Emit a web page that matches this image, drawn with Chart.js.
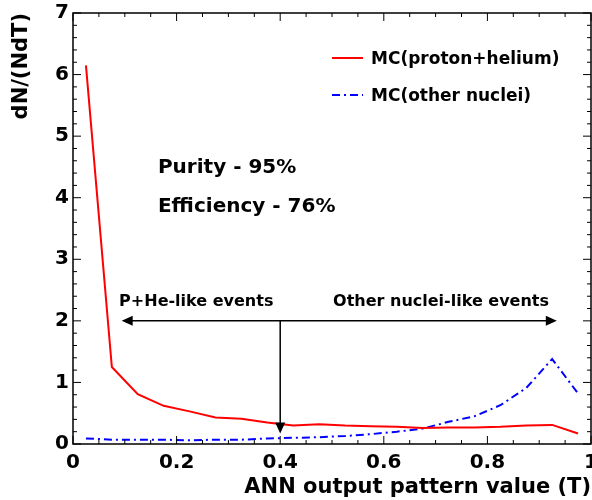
<!DOCTYPE html>
<html>
<head>
<meta charset="utf-8">
<script src="https://cdn.jsdelivr.net/npm/chart.js@4/dist/chart.umd.min.js"></script>
<style>
  html, body { margin: 0; padding: 0; background: #fff; }
  #wrap { width: 592px; height: 500px; }
</style>
</head>
<body>
<div id="wrap"><canvas id="MyChart" width="592" height="500"></canvas></div>
<script>
// bin centres of the ANN output histogram
const binCentres = [0.025, 0.075, 0.125, 0.175, 0.225, 0.275, 0.325, 0.375, 0.425, 0.475,
                    0.525, 0.575, 0.625, 0.675, 0.725, 0.775, 0.825, 0.875, 0.925, 0.975];
const protonHelium = [6.15, 1.25, 0.81, 0.62, 0.53, 0.43, 0.41, 0.35, 0.30, 0.32,
                      0.30, 0.29, 0.28, 0.26, 0.27, 0.27, 0.28, 0.30, 0.31, 0.17];
const otherNuclei  = [0.09, 0.07, 0.07, 0.07, 0.06, 0.07, 0.07, 0.09, 0.10, 0.11,
                      0.13, 0.16, 0.20, 0.25, 0.36, 0.45, 0.63, 0.91, 1.38, 0.82];
const seriesLabels = ['MC(proton+helium)', 'MC(other nuclei)'];
const xTicks = [0, 0.2, 0.4, 0.6, 0.8, 1];
const yTicks = [0, 1, 2, 3, 4, 5, 6, 7];

// annotation values (data units)
const cutValue = 0.4;
const arrowLevel = 2.0;
const arrowLeftEnd = 0.094;
const arrowRightEnd = 0.934;
const cutArrowEnd = 0.17;
const regionLabels = [
  { text: 'P+He-like events', x: 0.089, y: 2.31 },
  { text: 'Other nuclei-like events', x: 0.502, y: 2.31 }
];
const statLabels = [
  { text: 'Purity - 95%', x: 0.164, y: 4.48 },
  { text: 'Efficiency - 76%', x: 0.164, y: 3.85 }
];

const FONT = "'DejaVu Sans', sans-serif";
const blueDash = [8, 4, 2, 4];

const toPoints = (vals) => vals.map((v, i) => ({ x: binCentres[i], y: v }));

function arrowHead(ctx, x, y, dx, dy) {
  const len = 11, half = 5;
  const px = -dy, py = dx;
  ctx.beginPath();
  ctx.moveTo(x, y);
  ctx.lineTo(x - dx * len + px * half, y - dy * len + py * half);
  ctx.lineTo(x - dx * len - px * half, y - dy * len - py * half);
  ctx.closePath();
  ctx.fill();
}

const rootStyle = {
  id: 'rootStyle',
  afterDraw(chart) {
    const ctx = chart.ctx;
    const a = chart.chartArea;
    const xs = chart.scales.x, ys = chart.scales.y;
    ctx.save();
    ctx.strokeStyle = '#000';
    ctx.fillStyle = '#000';

    // frame
    ctx.lineWidth = 1.5;
    ctx.strokeRect(a.left, a.top, a.right - a.left, a.bottom - a.top);

    // ticks on all sides, pointing inwards
    ctx.lineWidth = 1;
    ctx.beginPath();
    for (let i = 0; i <= 20; i++) {
      const v = i * 0.05;
      const px = xs.getPixelForValue(v);
      const len = i % 4 === 0 ? 8 : 4;
      ctx.moveTo(px, a.bottom); ctx.lineTo(px, a.bottom - len);
      ctx.moveTo(px, a.top); ctx.lineTo(px, a.top + len);
    }
    for (let i = 0; i <= 35; i++) {
      const v = i * 0.2;
      const py = ys.getPixelForValue(v);
      const len = i % 5 === 0 ? 8 : 4;
      ctx.moveTo(a.left, py); ctx.lineTo(a.left + len, py);
      ctx.moveTo(a.right, py); ctx.lineTo(a.right - len, py);
    }
    ctx.stroke();

    // region arrows
    const yA = ys.getPixelForValue(arrowLevel);
    const xL = xs.getPixelForValue(arrowLeftEnd);
    const xR = xs.getPixelForValue(arrowRightEnd);
    const xC = xs.getPixelForValue(cutValue);
    const yC = ys.getPixelForValue(cutArrowEnd);
    ctx.lineWidth = 1.5;
    ctx.beginPath();
    ctx.moveTo(xL + 8, yA); ctx.lineTo(xR - 8, yA);
    ctx.moveTo(xC, yA); ctx.lineTo(xC, yC - 8);
    ctx.stroke();
    arrowHead(ctx, xL, yA, -1, 0);
    arrowHead(ctx, xR, yA, 1, 0);
    arrowHead(ctx, xC, yC, 0, 1);

    // texts
    ctx.textBaseline = 'middle';
    ctx.textAlign = 'left';
    ctx.font = 'bold 16px ' + FONT;
    regionLabels.forEach((l) => {
      ctx.fillText(l.text, xs.getPixelForValue(l.x), ys.getPixelForValue(l.y));
    });
    ctx.font = 'bold 20px ' + FONT;
    statLabels.forEach((l) => {
      ctx.fillText(l.text, xs.getPixelForValue(l.x), ys.getPixelForValue(l.y));
    });

    // legend
    ctx.font = 'bold 17px ' + FONT;
    const legendRows = [58, 95];
    chart.data.datasets.forEach((ds, i) => {
      const y = legendRows[i];
      ctx.strokeStyle = ds.borderColor;
      ctx.lineWidth = 2;
      ctx.setLineDash(ds.borderDash || []);
      ctx.beginPath();
      ctx.moveTo(332, y); ctx.lineTo(363, y);
      ctx.stroke();
      ctx.setLineDash([]);
      ctx.fillStyle = '#000';
      ctx.fillText(ds.label, 371, y + 2);
    });
    ctx.restore();
  }
};

new Chart('MyChart', {
  type: 'line',
  data: {
    datasets: [
      {
        label: seriesLabels[0],
        data: toPoints(protonHelium),
        borderColor: '#ff0000',
        borderWidth: 2,
        pointRadius: 0,
        tension: 0,
        fill: false
      },
      {
        label: seriesLabels[1],
        data: toPoints(otherNuclei),
        borderColor: '#0000ff',
        borderWidth: 2,
        borderDash: blueDash,
        pointRadius: 0,
        tension: 0,
        fill: false
      }
    ]
  },
  options: {
    responsive: false,
    animation: false,
    layout: { padding: { top: 13, right: 1, left: 0, bottom: 0 } },
    plugins: {
      legend: { display: false },
      tooltip: { enabled: false }
    },
    scales: {
      x: {
        type: 'linear',
        min: 0,
        max: 1,
        afterFit: (scale) => {
          scale.height = 56;
          scale.paddingLeft = 0;
          scale.paddingRight = 0;
        },
        afterBuildTicks: (scale) => { scale.ticks = xTicks.map((v) => ({ value: v })); },
        grid: { display: false, drawTicks: false },
        border: { display: false },
        ticks: {
          color: '#000',
          padding: 7,
          maxRotation: 0,
          font: { family: FONT, size: 20, weight: 'bold' },
          callback: (v) => String(v)
        },
        title: {
          display: true,
          text: 'ANN output pattern value (T)',
          align: 'end',
          color: '#000',
          padding: { top: 0, bottom: 0 },
          font: { family: FONT, size: 21, weight: 'bold' }
        }
      },
      y: {
        min: 0,
        max: 7,
        afterFit: (scale) => {
          scale.width = 73;
          scale.paddingTop = 0;
          scale.paddingBottom = 0;
        },
        afterBuildTicks: (scale) => { scale.ticks = yTicks.map((v) => ({ value: v })); },
        grid: { display: false, drawTicks: false },
        border: { display: false },
        ticks: {
          color: '#000',
          padding: 4,
          font: { family: FONT, size: 20, weight: 'bold' }
        },
        title: {
          display: true,
          text: 'dN/(NdT)',
          align: 'end',
          color: '#000',
          padding: { top: 9, bottom: 0 },
          font: { family: FONT, size: 21, weight: 'bold' }
        }
      }
    }
  },
  plugins: [rootStyle]
});
</script>
</body>
</html>
